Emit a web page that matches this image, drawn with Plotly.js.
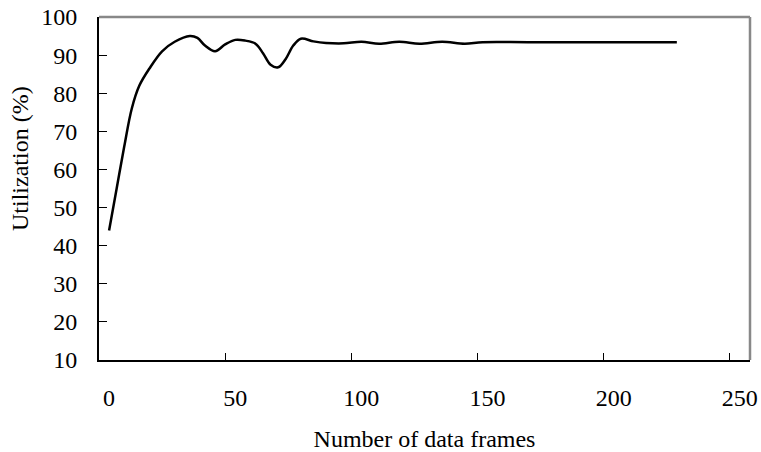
<!DOCTYPE html>
<html>
<head>
<meta charset="utf-8">
<script src="https://cdn.plot.ly/plotly-3.0.1.min.js"></script>
<style>html,body{margin:0;padding:0;background:#fff;}#chart{width:761px;height:452px;}</style>
</head>
<body>
<div id="chart"></div>
<script>
const frames = [4, 7, 10, 13, 16, 20, 25, 30, 36, 39, 42, 46, 50, 54, 58, 62, 65, 68, 71, 74, 77, 80, 85, 90, 97, 104, 111, 119, 127, 136, 145, 152, 170, 200, 229];
const utilization = [44, 55, 66, 76, 82, 86.5, 91, 93.5, 95, 94.5, 92.5, 91, 92.8, 94, 93.8, 93, 90.5, 87.5, 86.8, 89, 92.5, 94.3, 93.6, 93.2, 93.1, 93.5, 93, 93.5, 93, 93.5, 93, 93.4, 93.4, 93.4, 93.4];
const xTicks = [0, 50, 100, 150, 200, 250];
const yTicks = [10, 20, 30, 40, 50, 60, 70, 80, 90, 100];
const xTitle = "Number of data frames";
const yTitle = "Utilization (%)";

const font = {family: "Liberation Serif, Times New Roman, serif", size: 24, color: "#000"};

Plotly.newPlot("chart", [{
  x: frames, y: utilization, type: "scatter", mode: "lines",
  line: {color: "#000", width: 2.5, shape: "spline", smoothing: 1},
  hoverinfo: "skip"
}], {
  width: 761, height: 452,
  margin: {l: 99, r: 11, t: 17, b: 92},
  paper_bgcolor: "#fff", plot_bgcolor: "#fff",
  showlegend: false,
  font: font,
  xaxis: {
    range: [0, 258], tickvals: xTicks, ticktext: xTicks.map(String),
    ticks: "inside", ticklen: 7, tickwidth: 1, tickcolor: "#000",
    showline: true, linecolor: "#000", linewidth: 2, showgrid: false, zeroline: false,
    tickfont: font, ticklabelstandoff: 15, ticklabelshift: 10,
    title: {text: xTitle, font: font, standoff: 20}
  },
  yaxis: {
    range: [10, 100], tickvals: yTicks, ticktext: yTicks.map(String),
    ticks: "inside", ticklen: 8, tickwidth: 1, tickcolor: "#000",
    showline: true, linecolor: "#000", linewidth: 2, showgrid: false, zeroline: false,
    tickfont: font, ticklabelstandoff: 15
  },
  shapes: [
    {type: "line", xref: "paper", yref: "paper", x0: 0, x1: 1, y0: 1, y1: 1, line: {color: "#888", width: 2.5}},
    {type: "line", xref: "paper", yref: "paper", x0: 1, x1: 1, y0: 0, y1: 1, line: {color: "#888", width: 2.5}}
  ],
  annotations: [
    {text: yTitle, xref: "paper", yref: "paper", x: -(99 - 20) / 651, y: (360 - 159) / 343, xanchor: "center", yanchor: "middle", textangle: -90, showarrow: false, font: font}
  ]
}, {staticPlot: true, displayModeBar: false});
</script>
</body>
</html>
